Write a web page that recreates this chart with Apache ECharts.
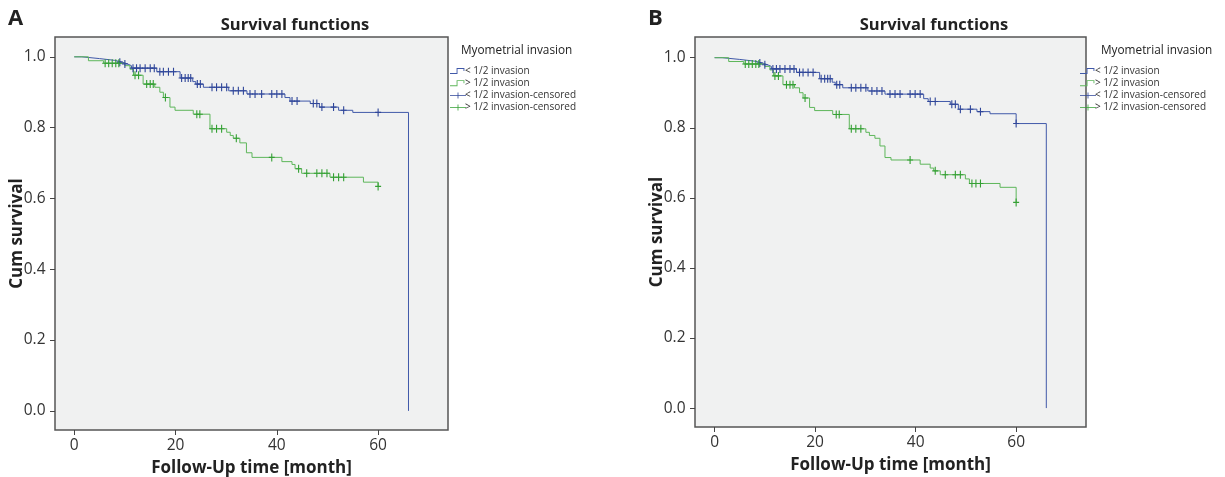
<!DOCTYPE html>
<html><head><meta charset="utf-8">
<script src="https://cdn.jsdelivr.net/npm/echarts@6/dist/echarts.min.js"></script>
<style>html,body{margin:0;padding:0;background:#fff}#c{width:1225px;height:477px}</style>
</head><body><div id="c"></div>
<script>
// ---- tick labels ----
const xTicks = [0, 20, 40, 60];
const yTicks = [0, 0.2, 0.4, 0.6, 0.8, 1.0];
// ---- series names ----
const nameLow = '< 1/2 invasion';
const nameHigh = '> 1/2 invasion';
const nameLowC = '< 1/2 invasion-censored';
const nameHighC = '> 1/2 invasion-censored';

// ---- Panel A : step times (month) and survival after each step, censor times ----
const lowA_t = [0, 1.5, 5, 8, 9.5, 10.5, 11.3, 16.3, 20.9, 23.4, 24.0, 25.5, 30.5, 34.1, 41.6, 42.6, 46.6, 48.4, 52.2, 55.0, 66.0];
const lowA_s = [1.0, 0.995, 0.99, 0.985, 0.98, 0.975, 0.968, 0.958, 0.94, 0.93, 0.923, 0.914, 0.904, 0.895, 0.885, 0.875, 0.868, 0.858, 0.849, 0.843, 0];
const lowA_c = [9.0, 10.0, 11.6, 12.3, 13.0, 14.0, 15.0, 15.8, 16.9, 17.6, 18.6, 19.6, 21.2, 21.9, 22.5, 23.0, 24.3, 24.9, 27.2, 28.1, 29.1, 30.1, 31.4, 32.4, 33.4, 34.7, 35.7, 37.0, 39.0, 40.0, 41.0, 43.0, 44.0, 47.2, 47.9, 48.9, 51.2, 53.2, 60.0];
const highA_t = [0, 2.8, 5.8, 10.0, 11.0, 11.7, 13.6, 15.9, 16.9, 17.6, 18.9, 19.9, 23.5, 26.8, 30.1, 30.8, 31.4, 32.7, 34.0, 35.1, 41.0, 43.0, 43.6, 44.9, 50.5, 57.1, 60.0];
const highA_s = [1.0, 0.989, 0.982, 0.975, 0.965, 0.948, 0.923, 0.914, 0.90, 0.885, 0.858, 0.849, 0.838, 0.797, 0.787, 0.778, 0.770, 0.757, 0.729, 0.716, 0.704, 0.696, 0.684, 0.671, 0.660, 0.646, 0.634];
const highA_c = [6.1, 6.8, 7.5, 8.2, 8.8, 12.0, 12.7, 14.3, 15.0, 15.6, 18.0, 24.2, 24.8, 27.2, 28.1, 29.1, 32.0, 39.0, 44.3, 45.9, 47.9, 48.9, 49.9, 51.2, 52.2, 53.2, 60.0];

// ---- Panel B ----
const lowB_t = [0, 1.5, 5, 8, 9.5, 10.5, 11.3, 16.3, 20.9, 23.4, 24.0, 25.5, 30.5, 33.9, 41.6, 42.5, 46.9, 48.5, 52.2, 54.8, 60.0, 66.0];
const lowB_s = [1.0, 0.995, 0.99, 0.985, 0.98, 0.975, 0.968, 0.958, 0.94, 0.93, 0.923, 0.914, 0.905, 0.896, 0.883, 0.875, 0.867, 0.853, 0.846, 0.840, 0.812, 0];
const lowB_c = [9.0, 10.0, 11.6, 12.3, 13.0, 14.0, 15.0, 15.8, 16.9, 17.6, 18.6, 19.6, 21.2, 21.9, 22.5, 23.0, 24.3, 24.9, 27.2, 28.1, 29.1, 30.1, 31.3, 32.3, 33.3, 34.9, 35.9, 36.9, 38.9, 39.9, 40.9, 42.9, 43.9, 47.2, 47.9, 48.9, 50.9, 52.9, 60.0];
const highB_t = [0, 2.8, 5.8, 10.0, 11.0, 11.7, 13.6, 15.9, 16.9, 17.6, 18.9, 19.9, 23.5, 26.8, 30.1, 30.8, 31.9, 32.9, 33.9, 35.1, 40.9, 42.9, 43.6, 44.9, 49.9, 50.7, 56.8, 60.0];
const highB_s = [1.0, 0.989, 0.982, 0.975, 0.965, 0.948, 0.923, 0.914, 0.90, 0.885, 0.858, 0.849, 0.838, 0.797, 0.787, 0.778, 0.770, 0.748, 0.715, 0.708, 0.696, 0.685, 0.677, 0.666, 0.654, 0.641, 0.630, 0.587];
const highB_c = [6.1, 6.8, 7.5, 8.2, 8.8, 12.0, 12.7, 14.3, 15.0, 15.6, 18.0, 24.2, 24.8, 27.2, 28.1, 29.1, 38.9, 43.9, 45.9, 47.9, 48.9, 51.2, 52.0, 52.9, 60.0];

const FONT = "'Open Sans', 'Noto Sans', sans-serif";
const BLUE = '#4059a9', GREEN = '#5db65a';
const BLUE_C = '#2f4699', GREEN_C = '#34a034';

function pairs(t, s) { return t.map((v, i) => [v, s[i]]); }
function censorPts(t, s, c) {
  return c.map(ct => { let k = 0; for (let i = 0; i < t.length; i++) if (t[i] <= ct) k = i; return [ct, s[k]]; });
}
const plusSym = 'path://M2.45,0h1.1v8h-1.1z M0,3.45h6v1.1h-6z';
const stepIcon = 'path://M0,5.1h7.4v0.9h-7.4z M6.6,0h0.9v6h-0.9z M6.6,0h7.8v0.9h-7.8z M13.5,0h0.9v3h-0.9z M15.9,0h0.1v0.1h-0.1z';
const censIcon = 'path://M0,2.6h16v0.8h-16z M7.6,0h0.8v6h-0.8z';

const panels = [
  {left: 55, top: 37, width: 393, height: 393, xmin: -3.8, xmax: 73.8, ymin: -0.054, ymax: 1.056,
   lt: lowA_t, ls: lowA_s, lc: lowA_c, ht: highA_t, hs: highA_s, hc: highA_c},
  {left: 695, top: 37, width: 391, height: 390, xmin: -3.9, xmax: 73.9, ymin: -0.054, ymax: 1.059,
   lt: lowB_t, ls: lowB_s, lc: lowB_c, ht: highB_t, hs: highB_s, hc: highB_c}
];

const grid = [], xAxis = [], yAxis = [], series = [];
panels.forEach((p, i) => {
  grid.push({left: p.left, top: p.top, width: p.width, height: p.height, show: true, outerBoundsMode: 'none',
    backgroundColor: '#f0f1f1', borderColor: '#555', borderWidth: 1.5, containLabel: false});
  xAxis.push({type: 'value', gridIndex: i, min: p.xmin, max: p.xmax,
    name: 'Follow-Up time [month]', nameLocation: 'middle', nameGap: 30, nameMoveOverlap: false,
    nameTextStyle: {fontFamily: FONT, fontWeight: 'bold', fontSize: 17, color: '#222'},
    axisLine: {show: false, onZero: false}, splitLine: {show: false},
    axisTick: {show: true, length: 5, customValues: xTicks, lineStyle: {color: '#444'}},
    axisLabel: {customValues: xTicks, margin: 7.5, fontFamily: FONT, fontSize: 15.5, color: '#333'}});
  yAxis.push({type: 'value', gridIndex: i, min: p.ymin, max: p.ymax,
    name: 'Cum survival', nameLocation: 'middle', nameGap: 29.5, nameMoveOverlap: false,
    nameTextStyle: {fontFamily: FONT, fontWeight: 'bold', fontSize: 17, color: '#222'},
    axisLine: {show: false, onZero: false}, splitLine: {show: false},
    axisTick: {show: true, length: 5, customValues: yTicks, lineStyle: {color: '#444'}},
    axisLabel: {customValues: yTicks, margin: 9.5, fontFamily: FONT, fontSize: 15.5, color: '#333',
      formatter: v => v.toFixed(1)}});
  series.push({type: 'line', name: nameLow, xAxisIndex: i, yAxisIndex: i, step: 'end', symbol: 'none',
    data: pairs(p.lt, p.ls), lineStyle: {color: BLUE, width: 1}, itemStyle: {color: BLUE}, z: 3});
  series.push({type: 'line', name: nameHigh, xAxisIndex: i, yAxisIndex: i, step: 'end', symbol: 'none',
    data: pairs(p.ht, p.hs), lineStyle: {color: GREEN, width: 1}, itemStyle: {color: GREEN}, z: 3});
  series.push({type: 'scatter', name: nameLowC, xAxisIndex: i, yAxisIndex: i, symbol: plusSym, symbolSize: [6, 8],
    data: censorPts(p.lt, p.ls, p.lc), itemStyle: {color: BLUE_C, opacity: 1}, z: 4});
  series.push({type: 'scatter', name: nameHighC, xAxisIndex: i, yAxisIndex: i, symbol: plusSym, symbolSize: [6, 8],
    data: censorPts(p.ht, p.hs, p.hc), itemStyle: {color: GREEN_C, opacity: 1}, z: 4});
});

const legendData = [
  {name: nameLow, icon: stepIcon}, {name: nameHigh, icon: stepIcon},
  {name: nameLowC, icon: censIcon}, {name: nameHighC, icon: censIcon}
];
const legendBase = {orient: 'vertical', itemWidth: 16, itemHeight: 6, itemGap: 2.2, padding: 0,
  selectedMode: false, data: legendData,
  textStyle: {fontFamily: FONT, fontSize: 10, lineHeight: 10, color: '#333', padding: [0, 0, 0, -6]}};

const txt = (x, y, text, size, weight, align) => ({type: 'text', x, y,
  style: {text, fontFamily: FONT, fontSize: size, fontWeight: weight, fill: '#222', textAlign: align, textVerticalAlign: 'middle'}});

const chart = echarts.init(document.getElementById('c'), null, {renderer: 'canvas'});
chart.setOption({
  animation: false,
  grid, xAxis, yAxis, series,
  legend: [Object.assign({}, legendBase, {left: 450, top: 66}), Object.assign({}, legendBase, {left: 1080, top: 66})],
  graphic: [
    txt(15.5, 18.5, 'A', 22, 'bold', 'center'),
    txt(655.5, 18.5, 'B', 22, 'bold', 'center'),
    txt(295, 25, 'Survival functions', 16.5, 'bold', 'center'),
    txt(934, 25, 'Survival functions', 16.5, 'bold', 'center'),
    txt(461, 51, 'Myometrial invasion', 11.8, 'normal', 'left'),
    txt(1101, 51, 'Myometrial invasion', 11.8, 'normal', 'left')
  ]
});
</script></body></html>
